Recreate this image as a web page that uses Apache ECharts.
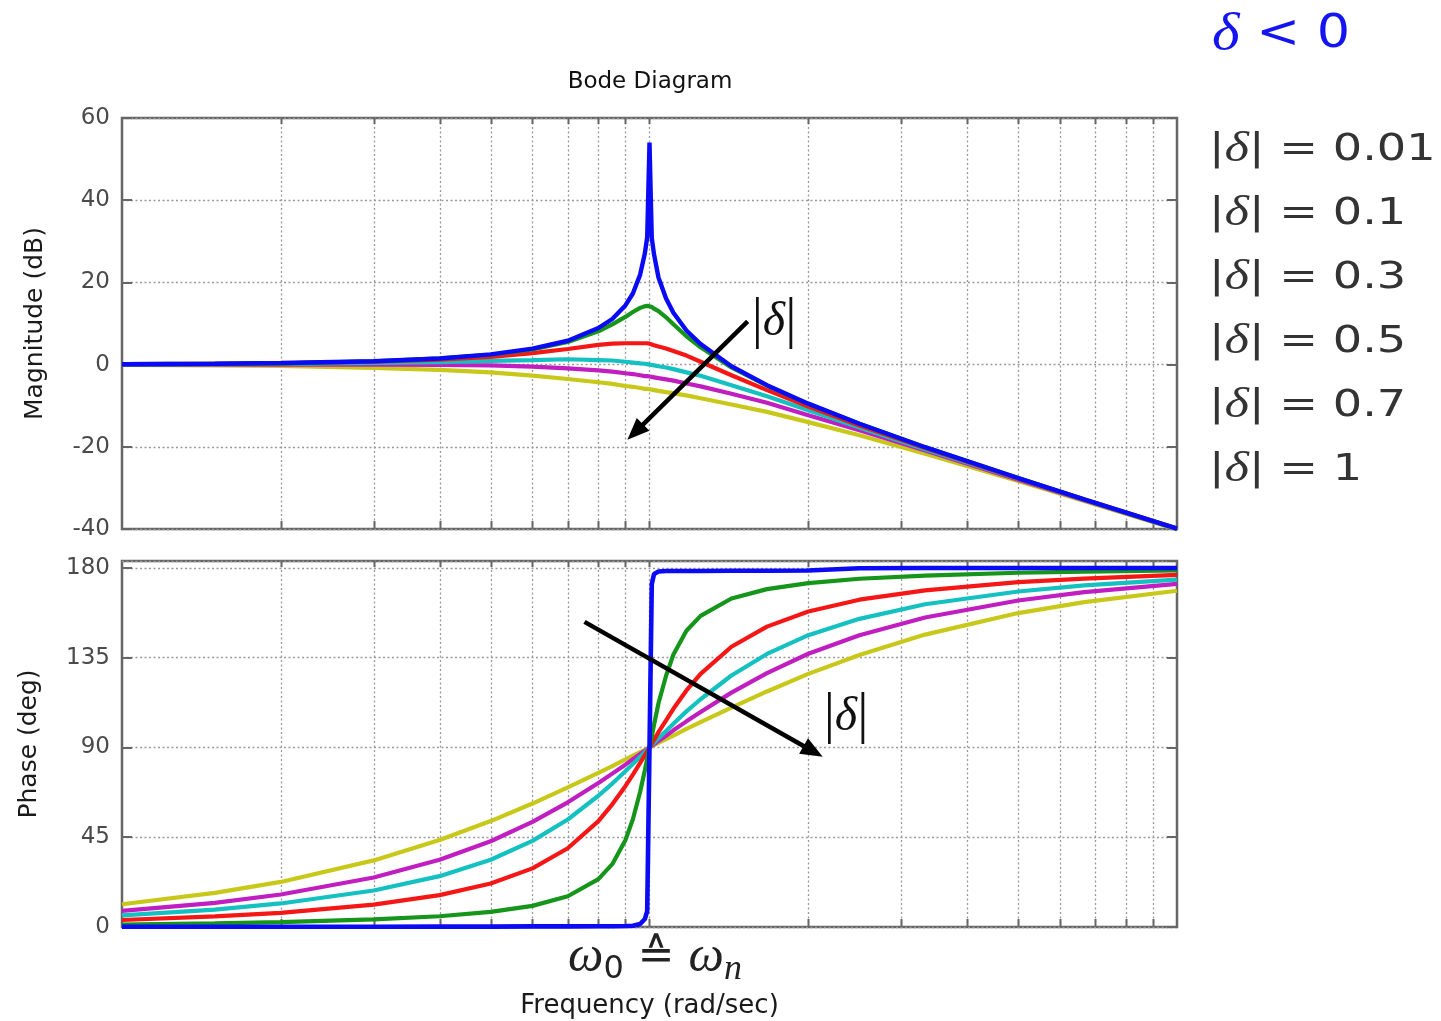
<!DOCTYPE html>
<html>
<head>
<meta charset="utf-8">
<script src="https://cdn.jsdelivr.net/npm/echarts@6/dist/echarts.min.js"></script>
<style>
  html, body { margin: 0; padding: 0; background: #ffffff; }
  #chart { width: 1441px; height: 1021px; }
</style>
</head>
<body>
<div id="chart"></div>
<script>
// Normalised frequency ω/ωn on a log axis (0.1 … 10)
const freq = [0.1, 0.15, 0.2, 0.3, 0.4, 0.5, 0.6, 0.7, 0.8, 0.85, 0.9, 0.93, 0.96, 0.98, 0.99, 1,
              1.01, 1.02, 1.04, 1.075, 1.11, 1.175, 1.25, 1.43, 1.67, 2, 2.5, 3.33, 5, 6.67, 10];

// |δ| values of the six curves
const damping = ['0.01', '0.1', '0.3', '0.5', '0.7', '1'];

// Magnitude (dB)
const mag001 = [0.1, 0.2, 0.4, 0.8, 1.5, 2.5, 3.9, 5.8, 8.9, 11.1, 14.4, 17.3, 21.9, 27.1, 31.0, 54.0,
                30.8, 26.8, 21.2, 16.1, 12.6, 8.3, 5.0, -0.4, -5.0, -9.5, -14.4, -20.1, -27.6, -32.8, -39.9];
const mag01  = [0.1, 0.2, 0.3, 0.8, 1.5, 2.4, 3.7, 5.5, 8.1, 9.8, 11.6, 12.8, 13.8, 14.2, 14.3, 14.2,
                14.0, 13.6, 13.0, 11.5, 9.8, 6.9, 4.2, -0.7, -5.1, -9.6, -14.4, -20.1, -27.6, -32.8, -39.9];
const mag03  = [0.1, 0.2, 0.3, 0.7, 1.2, 1.9, 2.8, 3.8, 4.8, 5.1, 5.2, 5.2, 5.2, 5.2, 5.2, 5.1,
                4.9, 4.7, 4.4, 3.9, 3.3, 2.2, 0.7, -2.6, -6.2, -10.2, -14.8, -20.3, -27.7, -32.8, -39.9];
const mag05  = [0.0, 0.1, 0.2, 0.4, 0.6, 0.9, 1.1, 1.3, 1.1, 1.0, 0.7, 0.5, 0.3, 0.2, 0.1, 0.0,
                -0.1, -0.2, -0.4, -0.7, -1.1, -1.9, -2.7, -5.0, -7.7, -11.1, -15.3, -20.6, -27.8, -32.9, -40.0];
const mag07  = [0.0, 0.0, 0.0, 0.0, -0.1, -0.2, -0.5, -0.9, -1.4, -1.7, -2.1, -2.3, -2.6, -2.8, -2.8, -2.9,
                -3.0, -3.1, -3.3, -3.6, -3.9, -4.6, -5.3, -7.1, -9.3, -12.3, -16.0, -20.9, -28.0, -33.0, -40.0];
const mag1   = [-0.1, -0.2, -0.3, -0.8, -1.3, -1.9, -2.7, -3.5, -4.3, -4.7, -5.2, -5.4, -5.7, -5.9, -5.9, -6.0,
                -6.1, -6.2, -6.4, -6.7, -7.0, -7.5, -8.2, -9.7, -11.5, -14.0, -17.2, -21.7, -28.3, -33.2, -40.1];

// Phase (deg)
const ph001 = [0.1, 0.1, 0.1, 0.1, 0.2, 0.2, 0.3, 0.3, 0.4, 0.4, 0.5, 0.6, 1.5, 4.0, 8.0, 90,
               172, 177, 178.2, 178.5, 178.5, 178.5, 178.5, 178.6, 178.6, 178.7, 179.9, 180, 180, 180, 180];
const ph01  = [1.2, 1.8, 2.4, 3.8, 5.4, 7.6, 10.6, 15.4, 24.0, 31.5, 43.5, 54.0, 67.8, 78.6, 84.3, 90,
               95.7, 101.4, 112.2, 126.0, 136.6, 148.5, 156.0, 164.7, 169.4, 172.4, 174.6, 176.2, 177.6, 178.2, 178.8];
const ph03  = [3.5, 5.3, 7.1, 11.2, 16.0, 21.8, 29.4, 39.5, 53.1, 61.5, 70.6, 76.4, 82.3, 86.2, 88.1, 90,
               91.9, 93.8, 97.7, 103.6, 109.4, 118.6, 126.9, 140.5, 150.6, 158.2, 164.1, 168.8, 172.9, 174.7, 176.5];
const ph05  = [5.8, 8.7, 11.8, 18.3, 25.5, 33.7, 43.2, 53.9, 65.8, 71.9, 78.1, 81.7, 85.3, 87.7, 88.9, 90,
               91.2, 92.3, 94.7, 98.3, 101.9, 108.1, 114.2, 126.1, 136.9, 146.3, 154.5, 161.8, 168.2, 171.3, 174.2];
const ph07  = [8.1, 12.1, 16.3, 24.8, 33.7, 43.0, 52.7, 62.5, 72.2, 76.9, 81.4, 84.1, 86.7, 88.4, 89.2, 90,
               90.8, 91.6, 93.3, 95.9, 98.6, 103.1, 107.8, 117.5, 127.3, 137.0, 146.3, 155.2, 163.7, 167.9, 172.0];
const ph1   = [11.4, 17.1, 22.6, 33.4, 43.6, 53.1, 61.9, 70.0, 77.3, 80.7, 84.0, 85.9, 87.7, 88.8, 89.4, 90,
               90.6, 91.2, 92.3, 94.2, 96.0, 99.3, 102.7, 110.0, 118.1, 126.9, 136.4, 146.6, 157.4, 162.9, 168.6];

// Axis ticks
const magTicks = [-40, -20, 0, 20, 40, 60];
const phaseTicks = [0, 45, 90, 135, 180];
const phaseTop = 183.5;                      // headroom above the 180° line
const gridFreqs = [0.2, 0.3, 0.4, 0.5, 0.6, 0.7, 0.8, 0.9, 1, 2, 3, 4, 5, 6, 7, 8, 9];

// Direction-of-increasing-|δ| arrows: [x0, y0, x1, y1] in data units
const magArrow = [1.535, 10.5, 0.908, -18.3];
const phaseArrow = [0.753, 153, 2.13, 85.3];

const colors = ['#0a0af5', '#15951a', '#f51616', '#14c0c0', '#c01ec0', '#c8c81a'];
const magSets = [mag001, mag01, mag03, mag05, mag07, mag1];
const phaseSets = [ph001, ph01, ph03, ph05, ph07, ph1];

const GRID_COLOR = '#9a9a9a';
const FRAME_COLOR = '#666666';
const LABEL_COLOR = '#4a4a4a';

function pairs(ys) { return freq.map((f, i) => [f, ys[i]]); }

// Dotted decade/sub-decade grid lines with small inward ticks on top and bottom edges
function renderGridLines(params, api) {
  const cs = params.coordSys;
  const x = Math.round(api.coord([api.value(0), api.value(1)])[0]) + 0.5;
  const top = cs.y, bottom = cs.y + cs.height;
  return {
    type: 'group',
    children: [
      { type: 'line', shape: { x1: x, y1: top, x2: x, y2: bottom },
        style: { stroke: GRID_COLOR, lineWidth: 1.3, lineDash: [2, 2.5] } },
      { type: 'line', shape: { x1: x, y1: top, x2: x, y2: top + 6 },
        style: { stroke: FRAME_COLOR, lineWidth: 2 } },
      { type: 'line', shape: { x1: x, y1: bottom - 8, x2: x, y2: bottom },
        style: { stroke: FRAME_COLOR, lineWidth: 2 } }
    ]
  };
}

function renderArrow(params, api) {
  const p1 = api.coord([api.value(0), api.value(1)]);
  const p2 = api.coord([api.value(2), api.value(3)]);
  const dx = p2[0] - p1[0], dy = p2[1] - p1[1];
  const len = Math.hypot(dx, dy);
  const ux = dx / len, uy = dy / len;
  const headLen = 22, headW = 9;
  const bx = p2[0] - ux * headLen, by = p2[1] - uy * headLen;
  return {
    type: 'group',
    children: [
      { type: 'line', shape: { x1: p1[0], y1: p1[1], x2: bx + ux * 2, y2: by + uy * 2 },
        style: { stroke: '#000', lineWidth: 4.5 } },
      { type: 'polygon', shape: { points: [[p2[0], p2[1]], [bx - uy * headW, by + ux * headW], [bx + uy * headW, by - ux * headW]] },
        style: { fill: '#000' } }
    ]
  };
}

function yAxisPair(gridIndex, min, max, interval, name, nameGap) {
  const common = {
    type: 'value', gridIndex, min, max, interval,
    axisLine: { show: false },
    axisTick: { show: true, inside: true, length: 10, lineStyle: { color: FRAME_COLOR, width: 2 } }
  };
  return [
    Object.assign({}, common, {
      position: 'left',
      name, nameLocation: 'middle', nameGap, nameRotate: 90,
      nameTextStyle: { fontFamily: 'DejaVu Sans', fontSize: 25, color: '#1a1a1a' },
      axisLabel: { show: true, margin: 12, fontFamily: 'DejaVu Sans', fontSize: 23, color: LABEL_COLOR,
                   padding: [0, 0, 6, 0], showMaxLabel: max === 60 },
      splitLine: { show: true, lineStyle: { color: GRID_COLOR, width: 1.3, type: [2, 2.5] } }
    }),
    Object.assign({}, common, {
      position: 'right',
      axisLabel: { show: false },
      splitLine: { show: false }
    })
  ];
}

const chart = echarts.init(document.getElementById('chart'), null, { renderer: 'canvas' });

const series = [];
[0, 1].forEach(g => {
  series.push({
    type: 'custom', xAxisIndex: g, yAxisIndex: g * 2, z: 1, silent: true,
    renderItem: renderGridLines,
    encode: { x: 0, y: 1 },
    data: gridFreqs.map(f => [f, g === 0 ? 0 : 90])
  });
});
magSets.forEach((set, i) => {
  series.push({
    name: '|δ| = ' + damping[i], type: 'line', xAxisIndex: 0, yAxisIndex: 0, z: 3 + (5 - i),
    data: pairs(set), showSymbol: false, clip: false,
    lineStyle: { color: colors[i], width: i === 0 ? 4.4 : 4.2 }
  });
});
phaseSets.forEach((set, i) => {
  series.push({
    name: '|δ| = ' + damping[i], type: 'line', xAxisIndex: 1, yAxisIndex: 2, z: 3 + (5 - i),
    data: pairs(set), showSymbol: false, clip: false,
    lineStyle: { color: colors[i], width: i === 0 ? 4.6 : 4.2 }
  });
});
series.push({
  type: 'custom', xAxisIndex: 0, yAxisIndex: 0, z: 20, silent: true,
  renderItem: renderArrow, encode: { x: [0, 2], y: [1, 3] }, data: [magArrow]
});
series.push({
  type: 'custom', xAxisIndex: 1, yAxisIndex: 2, z: 20, silent: true,
  renderItem: renderArrow, encode: { x: [0, 2], y: [1, 3] }, data: [phaseArrow]
});

const sansRow = { fontFamily: 'DejaVu Sans', fontSize: 37, fill: '#333' };
const deltaRow = { fontFamily: 'Liberation Serif', fontStyle: 'italic', fontSize: 42, fill: '#333' };
const legendRows = damping.map((d, i) => ({
  type: 'text', x: 1209, y: 150 + i * 64, scaleX: 1.25,
  style: {
    text: '{b||}{d|δ}{b||}{s| = ' + d + '}',
    verticalAlign: 'middle', align: 'left',
    rich: { b: sansRow, d: deltaRow, s: sansRow }
  }
}));

const absLabel = (x, y) => ({
  type: 'text', x, y,
  style: {
    text: '{b||}{d|δ}{b||}', align: 'center', verticalAlign: 'middle',
    rich: {
      b: { fontFamily: 'Liberation Serif', fontSize: 56, fill: '#111' },
      d: { fontFamily: 'Liberation Serif', fontStyle: 'italic', fontSize: 48, fill: '#111' }
    }
  }
});

chart.setOption({
  animation: false,
  backgroundColor: '#ffffff',
  title: {
    text: 'Bode Diagram', left: 645, top: 66, textAlign: 'center',
    textStyle: { fontFamily: 'DejaVu Sans', fontSize: 23, fontWeight: 'normal', color: '#111' }
  },
  grid: [
    { left: 122, top: 118, width: 1055, height: 411, show: true, borderColor: FRAME_COLOR, borderWidth: 2.5,
      backgroundColor: 'transparent', outerBoundsMode: 'none', containLabel: false },
    { left: 122, top: 561, width: 1055, height: 366, show: true, borderColor: FRAME_COLOR, borderWidth: 2.5,
      backgroundColor: 'transparent', outerBoundsMode: 'none', containLabel: false }
  ],
  xAxis: [
    { type: 'log', logBase: 10, gridIndex: 0, min: 0.1, max: 10,
      axisLine: { show: false }, axisTick: { show: false }, axisLabel: { show: false }, splitLine: { show: false } },
    { type: 'log', logBase: 10, gridIndex: 1, min: 0.1, max: 10,
      name: 'Frequency (rad/sec)', nameLocation: 'middle', nameGap: 66,
      nameTextStyle: { fontFamily: 'DejaVu Sans', fontSize: 26, color: '#1a1a1a' },
      axisLine: { show: false }, axisTick: { show: false }, axisLabel: { show: false }, splitLine: { show: false } }
  ],
  yAxis: [
    ...yAxisPair(0, magTicks[0], magTicks[magTicks.length - 1], magTicks[1] - magTicks[0], 'Magnitude (dB)', 74),
    ...yAxisPair(1, phaseTicks[0], phaseTop, phaseTicks[1] - phaseTicks[0], 'Phase (deg)', 80)
  ],
  series,
  graphic: [
    {
      type: 'text', x: 1212, y: 35, scaleX: 1.14,
      style: {
        text: '{d|δ}{s| < 0}', align: 'left', verticalAlign: 'middle',
        rich: {
          d: { fontFamily: 'Liberation Serif', fontStyle: 'italic', fontSize: 52, fill: '#1414f0' },
          s: { fontFamily: 'DejaVu Sans', fontSize: 46, fill: '#1414f0' }
        }
      }
    },
    ...legendRows,
    absLabel(774, 322),
    absLabel(846, 717),
    {
      type: 'text', x: 655, y: 958,
      style: {
        text: '{w|ω}{sub|0}{e| ≙ }{w|ω}{subn|n}', align: 'center', verticalAlign: 'middle',
        rich: {
          w: { fontFamily: 'Liberation Serif', fontStyle: 'italic', fontSize: 50, fill: '#222' },
          sub: { fontFamily: 'DejaVu Sans', fontSize: 32, fill: '#222', padding: [24, 0, 0, 0] },
          subn: { fontFamily: 'Liberation Serif', fontStyle: 'italic', fontSize: 36, fill: '#222', padding: [24, 0, 0, 0] },
          e: { fontFamily: 'DejaVu Sans', fontSize: 44, fill: '#222' }
        }
      }
    }
  ]
});
</script>
</body>
</html>
